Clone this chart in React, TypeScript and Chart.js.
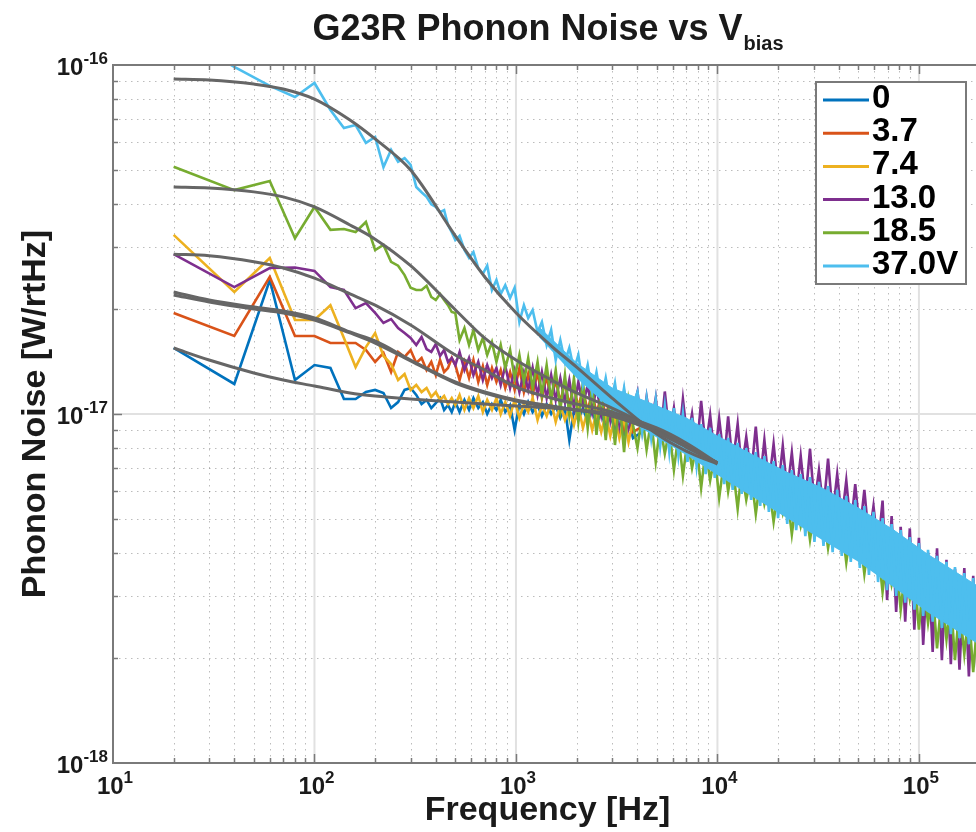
import React, { useEffect, useRef } from "react";
import { Chart, registerables } from "chart.js";

Chart.register(...registerables);

// ---------------- data (noise values in units of 1e-17 W/rtHz) ----------------
const UNIT = 1e-17;

const SERIES_LABELS = ["0", "3.7", "7.4", "13.0", "18.5", "37.0V"];
const SERIES_COLORS = ["#0072BD", "#D95319", "#EDB120", "#7E2F8E", "#77AC30", "#4DBEEE"];

// frequency grids [Hz]
const F_LOW = [20, 40, 60, 80, 100, 120, 140, 160, 180, 200, 220, 240, 260, 280, 300, 320, 340, 360, 380, 400, 420, 440, 460, 480];
const F_MID = [500, 525, 555, 585, 615, 650, 685, 720, 760, 800, 840, 885, 935, 985, 1040, 1095, 1150, 1210, 1280, 1345, 1420, 1495, 1575, 1660, 1750, 1840, 1940, 2040, 2150, 2270, 2390, 2510, 2650, 2790, 2940, 3100, 3260, 3440, 3620, 3810];
const F_HIGH = [4010, 4230, 4450, 4690, 4940, 5200, 5480, 5770, 6080, 6400, 6740, 7100, 7480, 7880, 8300, 8740, 9200, 9700, 10200, 10800, 11300, 11900, 12600, 13200, 13900, 14700, 15500, 16300, 17100, 18000, 19000, 20000, 21100, 22200, 23400, 24600, 25900, 27300, 28800, 30300, 31900, 33600, 35400, 37300, 39300, 41400, 43600, 45900, 48300, 50900, 53600, 56500, 59500, 62700, 66000, 69500, 73200, 77100, 81200, 85500, 90100, 94900, 100000, 105000, 111000, 117000, 123000, 130000, 137000, 144000, 151000, 159000, 168000, 177000, 186000, 196000, 206000];
const F_TAIL = [5000, 8000, 12000, 20000, 30000, 50000, 80000, 120000, 200000];

// 0 V
const V0_LOW = [1.546, 1.219, 2.42, 1.251, 1.381, 1.355, 1.104, 1.104, 1.156, 1.172, 1.149, 1.040, 1.082, 1.172, 1.187, 1.134, 1.068, 1.097, 1.040, 1.075, 1.111, 1.027, 1.061, 1.013];
const V0_MID = [1.082, 1.013, 1.097, 1.027, 1.111, 1.040, 1.082, 1.000, 1.068, 1.027, 1.097, 1.013, 1.061, 0.900, 1.068, 1.000, 1.082, 1.013, 1.061, 0.987, 1.068, 1.000, 1.054, 0.974, 1.040, 0.842, 1.027, 0.961, 1.040, 0.949, 1.027, 0.930, 1.013, 0.912, 0.993, 0.900, 0.974, 0.876, 0.961, 0.853];
const V0_TAIL = [0.95, 0.80, 0.72, 0.60, 0.53, 0.45, 0.37, 0.31, 0.26];

// 3.7 V
const V1_LOW = [1.948, 1.673, 2.47, 1.673, 1.673, 1.597, 1.597, 1.597, 1.525, 1.410, 1.496, 1.319, 1.506, 1.457, 1.525, 1.400, 1.447, 1.337, 1.410, 1.293, 1.428, 1.319, 1.355, 1.447];
const V1_MID = [1.381, 1.251, 1.410, 1.268, 1.428, 1.235, 1.372, 1.211, 1.355, 1.235, 1.337, 1.187, 1.319, 1.172, 1.355, 1.156, 1.302, 1.134, 1.319, 1.111, 1.285, 1.097, 1.251, 1.082, 1.235, 1.061, 1.203, 1.040, 1.187, 1.013, 1.172, 0.993, 1.141, 0.974, 1.126, 0.949, 1.097, 0.912, 1.061, 0.888];
const V1_TAIL = [0.97, 0.83, 0.70, 0.62, 0.51, 0.46, 0.36, 0.32, 0.25];

// 7.4 V
const V2_LOW = [3.26, 2.237, 2.80, 1.859, 1.859, 2.05, 1.651, 1.363, 1.555, 1.706, 1.466, 1.391, 1.251, 1.302, 1.172, 1.211, 1.156, 1.187, 1.119, 1.156, 1.097, 1.126, 1.068, 1.111];
const V2_MID = [1.061, 1.134, 1.027, 1.111, 1.040, 1.126, 1.013, 1.097, 1.027, 1.111, 1.000, 1.082, 0.987, 1.097, 0.974, 1.068, 1.013, 1.111, 0.961, 1.061, 0.987, 1.082, 0.949, 1.061, 0.961, 1.040, 0.930, 1.054, 0.912, 1.027, 0.900, 1.013, 0.888, 1.000, 0.865, 0.987, 0.853, 0.974, 0.831, 0.961];
const V2_TAIL = [0.93, 0.81, 0.73, 0.59, 0.53, 0.44, 0.38, 0.30, 0.265];

// 13.0 V
const V3_LOW = [2.87, 2.31, 2.62, 2.63, 2.57, 2.31, 2.266, 2.01, 2.08, 1.948, 1.823, 1.871, 1.764, 1.706, 1.651, 1.576, 1.662, 1.535, 1.506, 1.587, 1.466, 1.525, 1.410, 1.447];
const V3_MID = [1.381, 1.506, 1.337, 1.447, 1.293, 1.410, 1.251, 1.381, 1.268, 1.355, 1.211, 1.372, 1.187, 1.337, 1.156, 1.319, 1.172, 1.355, 1.134, 1.319, 1.111, 1.293, 1.097, 1.268, 1.082, 1.251, 1.040, 1.235, 1.061, 1.211, 1.013, 1.203, 0.993, 1.187, 0.961, 1.172, 0.930, 1.156, 0.912, 1.027];
const V3_HIGH = [
  1.157, 0.900, 1.120, 0.930, 1.111, 0.842, 1.160, 0.871, 1.040, 0.815,
  1.104, 0.842, 1.000, 0.778, 1.090, 0.799, 0.993, 0.748, 0.970, 0.729,
  0.985, 0.714, 0.936, 0.691, 0.860, 0.669, 0.920, 0.647, 0.842, 0.626,
  0.820, 0.606, 0.810, 0.598, 0.775, 0.575, 0.758, 0.560, 0.795, 0.549,
  0.690, 0.531, 0.745, 0.514, 0.673, 0.497, 0.645, 0.471, 0.630, 0.459,
  0.606, 0.436, 0.545, 0.413, 0.565, 0.293, 0.510, 0.271, 0.475, 0.254,
  0.470, 0.241, 0.442, 0.218, 0.400, 0.208, 0.412, 0.197, 0.382, 0.192,
  0.360, 0.185, 0.362, 0.177, 0.344, 0.173, 0.335,
];

// 18.5 V
const V4_LOW = [5.11, 4.38, 4.65, 3.19, 3.92, 3.37, 3.39, 3.32, 3.55, 2.95, 3.05, 2.73, 2.66, 2.50, 2.30, 2.266, 2.266, 2.33, 2.164, 2.121, 2.207, 2.121, 2.05, 1.96];
const V4_MID = [1.948, 1.629, 1.764, 1.577, 1.741, 1.525, 1.651, 1.476, 1.607, 1.410, 1.577, 1.355, 1.525, 1.268, 1.476, 1.235, 1.447, 1.187, 1.410, 1.134, 1.381, 1.097, 1.337, 1.027, 1.293, 0.993, 1.268, 0.949, 1.235, 0.912, 1.211, 0.871, 1.172, 0.842, 1.156, 0.815, 1.111, 0.778, 1.097, 0.930];
const V4_HIGH = [
  0.799, 0.993, 0.790, 0.961, 0.729, 0.930, 0.770, 0.900, 0.691, 0.871,
  0.665, 0.842, 0.700, 0.815, 0.614, 0.789, 0.645, 0.763, 0.575, 0.738,
  0.600, 0.714, 0.535, 0.691, 0.567, 0.669, 0.517, 0.647, 0.552, 0.626,
  0.491, 0.606, 0.520, 0.586, 0.452, 0.567, 0.478, 0.549, 0.436, 0.531,
  0.462, 0.514, 0.413, 0.497, 0.435, 0.481, 0.375, 0.465, 0.400, 0.450,
  0.348, 0.436, 0.370, 0.413, 0.309, 0.395, 0.325, 0.377, 0.275, 0.357,
  0.295, 0.344, 0.241, 0.330, 0.252, 0.313, 0.213, 0.301, 0.226, 0.293,
  0.197, 0.282, 0.205, 0.271, 0.182, 0.266, 0.190,
];

// 37.0 V
const V5_LOW = [12.5, 9.87, 8.71, 8.10, 8.88, 7.43, 6.60, 6.73, 5.98, 6.22, 5.10, 5.71, 5.28, 5.41, 5.17, 4.47, 4.32, 4.19, 3.99, 3.92, 3.79, 3.84, 3.48, 3.32];
const V5_MID = [3.15, 3.24, 2.95, 2.80, 2.91, 2.62, 2.52, 2.66, 2.266, 2.42, 2.207, 2.34, 2.149, 2.30, 1.835, 2.05, 1.884, 1.986, 1.718, 1.835, 1.577, 1.741, 1.428, 1.629, 1.410, 1.546, 1.337, 1.476, 1.211, 1.381, 1.156, 1.319, 1.097, 1.268, 1.061, 1.227, 0.993, 1.187, 0.961, 1.061];
const V5_HIGH = [
  1.157, 0.888, 1.111, 0.854, 1.097, 0.810, 1.054, 0.778, 1.040, 0.763,
  1.000, 0.729, 0.974, 0.710, 0.936, 0.673, 0.912, 0.656, 0.876, 0.630,
  0.854, 0.606, 0.826, 0.590, 0.799, 0.567, 0.778, 0.545, 0.758, 0.524,
  0.733, 0.503, 0.714, 0.484, 0.691, 0.465, 0.673, 0.447, 0.660, 0.430,
  0.639, 0.419, 0.622, 0.402, 0.606, 0.392, 0.582, 0.377, 0.567, 0.362,
  0.545, 0.346, 0.524, 0.330, 0.503, 0.313, 0.484, 0.301, 0.465, 0.288,
  0.444, 0.275, 0.427, 0.264, 0.408, 0.254, 0.392, 0.244, 0.377, 0.234,
  0.364, 0.228, 0.350, 0.219, 0.339, 0.214, 0.330,
];
// dense body of the 37.0 V trace above 1.3 kHz (upper / lower edge)
const F_BAND = [1300, 2000, 3000, 4500, 7000, 10000, 15000, 22000, 33000, 50000, 75000, 110000, 160000, 210000];
const BAND_HI = [1.775, 1.400, 1.187, 1.082, 0.974, 0.865, 0.763, 0.682, 0.614, 0.538, 0.465, 0.397, 0.346, 0.313];
const BAND_LO = [1.662, 1.268, 1.027, 0.888, 0.763, 0.669, 0.578, 0.504, 0.436, 0.377, 0.319, 0.271, 0.236, 0.214];

// model fits (gray)
const F_FIT = [20, 30, 50, 70, 100, 150, 200, 300, 500, 700, 1000, 1500, 2000, 3000, 5000, 7000, 10000];
const FIT_0 = [1.546, 1.428, 1.311, 1.251, 1.203, 1.149, 1.126, 1.104, 1.082, 1.068, 1.054, 1.040, 1.027, 1.000, 0.912, 0.826, 0.724];
const FIT_1 = [2.236, 2.121, 2.026, 1.973, 1.884, 1.718, 1.619, 1.428, 1.235, 1.156, 1.097, 1.054, 1.027, 0.987, 0.888, 0.804, 0.724];
const FIT_2 = [2.193, 2.094, 1.999, 1.947, 1.859, 1.707, 1.597, 1.419, 1.227, 1.149, 1.089, 1.047, 1.027, 0.987, 0.888, 0.804, 0.724];
const FIT_3 = [2.87, 2.84, 2.73, 2.62, 2.45, 2.21, 2.05, 1.80, 1.476, 1.337, 1.195, 1.111, 1.068, 1.013, 0.900, 0.810, 0.724];
const FIT_4 = [4.47, 4.44, 4.33, 4.19, 3.92, 3.48, 3.17, 2.66, 1.99, 1.65, 1.428, 1.251, 1.149, 1.040, 0.900, 0.810, 0.724];
const FIT_5 = [9.12, 9.06, 8.82, 8.54, 7.99, 6.96, 6.14, 5.00, 3.24, 2.47, 1.95, 1.566, 1.363, 1.111, 0.876, 0.783, 0.719];

// axes
const X_MIN = 10;
const X_MAX = 1.92e5;
const Y_MIN = 1e-18;
const Y_MAX = 1e-16;
const X_DECADES = [10, 100, 1000, 10000, 100000];
const X_EXPONENTS = ["1", "2", "3", "4", "5"];
const Y_DECADES = [1e-18, 1e-17, 1e-16];
const Y_EXPONENTS = ["-18", "-17", "-16"];
const MINOR_STEPS = [2, 3, 4, 5, 6, 7, 8, 9];

const TITLE_MAIN = "G23R Phonon Noise vs V";
const TITLE_SUB = "bias";
const X_TITLE = "Frequency [Hz]";
const Y_TITLE = "Phonon Noise [W/rtHz]";

// ---------------- styling ----------------
const FONT = '"Liberation Sans", Arial, Helvetica, sans-serif';
const TEXT = "#1a1a1a";
const FRAME = "#7a7a7a";
const FIT_COLOR = "#666666";
const LEGEND_BOX = { left: 816, top: 82, right: 966, bottom: 284, line0: 823, line1: 869, textX: 872, row0: 99, rowStep: 33.2 };

const pts = (fs: number[], vs: number[]) => fs.map((f, i) => ({ x: f, y: vs[i] * UNIT }));

const SERIES = [
  { f: [...F_LOW, ...F_MID, ...F_TAIL], v: [...V0_LOW, ...V0_MID, ...V0_TAIL], order: 8 },
  { f: [...F_LOW, ...F_MID, ...F_TAIL], v: [...V1_LOW, ...V1_MID, ...V1_TAIL], order: 7 },
  { f: [...F_LOW, ...F_MID, ...F_TAIL], v: [...V2_LOW, ...V2_MID, ...V2_TAIL], order: 6 },
  { f: [...F_LOW, ...F_MID, ...F_HIGH], v: [...V3_LOW, ...V3_MID, ...V3_HIGH], order: 5 },
  { f: [...F_LOW, ...F_MID, ...F_HIGH], v: [...V4_LOW, ...V4_MID, ...V4_HIGH], order: 4 },
  { f: [...F_LOW, ...F_MID, ...F_HIGH], v: [...V5_LOW, ...V5_MID, ...V5_HIGH], order: 1 },
];
const FITS = [FIT_0, FIT_1, FIT_2, FIT_3, FIT_4, FIT_5];

function buildDatasets() {
  const ds: any[] = [];
  SERIES.forEach((s, i) => {
    ds.push({
      label: SERIES_LABELS[i],
      data: pts(s.f, s.v),
      borderColor: SERIES_COLORS[i],
      backgroundColor: SERIES_COLORS[i],
      borderWidth: 2.6,
      pointRadius: 0,
      tension: 0,
      fill: false,
      order: s.order,
    });
  });
  // body of the dense 37.0 V trace
  ds.push({
    label: "_band_hi",
    data: pts(F_BAND, BAND_HI),
    borderColor: SERIES_COLORS[5],
    backgroundColor: SERIES_COLORS[5],
    borderWidth: 1,
    pointRadius: 0,
    tension: 0,
    fill: "+1",
    order: 2,
  });
  ds.push({
    label: "_band_lo",
    data: pts(F_BAND, BAND_LO),
    borderColor: "rgba(0,0,0,0)",
    borderWidth: 1,
    pointRadius: 0,
    tension: 0,
    fill: false,
    order: 3,
  });
  FITS.forEach((fv, i) => {
    ds.push({
      label: "_fit" + i,
      data: pts(F_FIT, fv),
      borderColor: FIT_COLOR,
      borderWidth: 3,
      pointRadius: 0,
      cubicInterpolationMode: "monotone",
      fill: false,
      order: 0,
    });
  });
  return ds;
}

function drawPower(ctx: CanvasRenderingContext2D, exp: string, x: number, y: number, align: "center" | "right", baseSize: number, expSize: number, rise: number) {
  ctx.font = `bold ${baseSize}px ${FONT}`;
  const w1 = ctx.measureText("10").width;
  ctx.font = `bold ${expSize}px ${FONT}`;
  const w2 = ctx.measureText(exp).width;
  const start = align === "center" ? x - (w1 + w2) / 2 : x - (w1 + w2);
  ctx.textAlign = "left";
  ctx.textBaseline = "alphabetic";
  ctx.font = `bold ${baseSize}px ${FONT}`;
  ctx.fillText("10", start, y);
  ctx.font = `bold ${expSize}px ${FONT}`;
  ctx.fillText(exp, start + w1, y - rise);
}

const matlabAxes = {
  id: "matlabAxes",
  beforeDatasetsDraw(chart: any) {
    const { ctx, chartArea: a } = chart;
    const xs = chart.scales.x;
    const ys = chart.scales.y;
    ctx.save();
    ctx.beginPath();
    ctx.rect(a.left, a.top, a.right - a.left, a.bottom - a.top);
    ctx.clip();
    // minor grid (dotted)
    ctx.setLineDash([1.5, 4.5]);
    ctx.lineWidth = 1;
    ctx.strokeStyle = "rgba(80,80,80,0.38)";
    for (const d of X_DECADES) {
      for (const k of MINOR_STEPS) {
        const v = d * k;
        if (v >= X_MAX) continue;
        const px = Math.round(xs.getPixelForValue(v)) + 0.5;
        ctx.beginPath();
        ctx.moveTo(px, a.top);
        ctx.lineTo(px, a.bottom);
        ctx.stroke();
      }
    }
    for (const d of Y_DECADES) {
      for (const k of MINOR_STEPS) {
        const v = d * k;
        if (v >= Y_MAX) continue;
        const py = Math.round(ys.getPixelForValue(v)) + 0.5;
        ctx.beginPath();
        ctx.moveTo(a.left, py);
        ctx.lineTo(a.right, py);
        ctx.stroke();
      }
    }
    // major grid (solid, light)
    ctx.setLineDash([]);
    ctx.strokeStyle = "#e1e1e1";
    ctx.lineWidth = 2;
    for (const d of X_DECADES) {
      const px = xs.getPixelForValue(d);
      ctx.beginPath();
      ctx.moveTo(px, a.top);
      ctx.lineTo(px, a.bottom);
      ctx.stroke();
    }
    for (const d of Y_DECADES) {
      const py = ys.getPixelForValue(d);
      ctx.beginPath();
      ctx.moveTo(a.left, py);
      ctx.lineTo(a.right, py);
      ctx.stroke();
    }
    ctx.restore();
  },
  afterDatasetsDraw(chart: any) {
    const { ctx, chartArea: a } = chart;
    const xs = chart.scales.x;
    const ys = chart.scales.y;
    ctx.save();
    // frame (left, bottom, top)
    ctx.strokeStyle = FRAME;
    ctx.lineWidth = 2;
    ctx.beginPath();
    ctx.moveTo(a.right + 2, a.top);
    ctx.lineTo(a.left, a.top);
    ctx.lineTo(a.left, a.bottom);
    ctx.lineTo(a.right + 2, a.bottom);
    ctx.stroke();
    // inward ticks
    ctx.lineWidth = 1.5;
    const xTick = (v: number, len: number) => {
      const px = Math.round(xs.getPixelForValue(v)) + 0.5;
      ctx.beginPath();
      ctx.moveTo(px, a.bottom);
      ctx.lineTo(px, a.bottom - len);
      ctx.moveTo(px, a.top);
      ctx.lineTo(px, a.top + len);
      ctx.stroke();
    };
    const yTick = (v: number, len: number) => {
      const py = Math.round(ys.getPixelForValue(v)) + 0.5;
      ctx.beginPath();
      ctx.moveTo(a.left, py);
      ctx.lineTo(a.left + len, py);
      ctx.stroke();
    };
    for (const d of X_DECADES) {
      if (d > X_MIN) xTick(d, 9);
      for (const k of MINOR_STEPS) if (d * k < X_MAX) xTick(d * k, 5);
    }
    for (const d of Y_DECADES) {
      if (d > Y_MIN && d < Y_MAX) yTick(d, 9);
      for (const k of MINOR_STEPS) if (d * k < Y_MAX) yTick(d * k, 5);
    }
    // tick labels
    ctx.fillStyle = TEXT;
    X_DECADES.forEach((d, i) => {
      drawPower(ctx, X_EXPONENTS[i], xs.getPixelForValue(d) + 2, a.bottom + 31, "center", 24, 17, 11);
    });
    Y_DECADES.forEach((d, i) => {
      drawPower(ctx, Y_EXPONENTS[i], a.left - 5, ys.getPixelForValue(d) + 10, "right", 24, 17, 11);
    });
    // axis titles
    ctx.font = `bold 34px ${FONT}`;
    ctx.textAlign = "center";
    ctx.textBaseline = "alphabetic";
    ctx.fillText(X_TITLE, (a.left + a.right) / 2 + 3, 820);
    ctx.save();
    ctx.translate(45, (a.top + a.bottom) / 2);
    ctx.rotate(-Math.PI / 2);
    ctx.fillText(Y_TITLE, 0, 0);
    ctx.restore();
    // title with subscript
    ctx.font = `bold 36px ${FONT}`;
    const wMain = ctx.measureText(TITLE_MAIN).width;
    ctx.font = `bold 20px ${FONT}`;
    const wSub = ctx.measureText(TITLE_SUB).width;
    const tx = (a.left + a.right) / 2 + 3 - (wMain + wSub) / 2;
    ctx.textAlign = "left";
    ctx.font = `bold 36px ${FONT}`;
    ctx.fillText(TITLE_MAIN, tx, 40);
    ctx.font = `bold 20px ${FONT}`;
    ctx.fillText(TITLE_SUB, tx + wMain + 1, 50);
    // legend
    const L = LEGEND_BOX;
    ctx.fillStyle = "#ffffff";
    ctx.fillRect(L.left, L.top, L.right - L.left, L.bottom - L.top);
    ctx.strokeStyle = FRAME;
    ctx.lineWidth = 2;
    ctx.strokeRect(L.left, L.top, L.right - L.left, L.bottom - L.top);
    ctx.font = `bold 33px ${FONT}`;
    ctx.textBaseline = "middle";
    SERIES_LABELS.forEach((lab, i) => {
      const y = L.row0 + i * L.rowStep;
      ctx.strokeStyle = SERIES_COLORS[i];
      ctx.lineWidth = 3;
      ctx.beginPath();
      ctx.moveTo(L.line0, y + 1);
      ctx.lineTo(L.line1, y + 1);
      ctx.stroke();
      ctx.fillStyle = "#000000";
      ctx.fillText(lab, L.textX, y);
    });
    ctx.restore();
  },
};

export default function App() {
  const ref = useRef<HTMLCanvasElement>(null);
  useEffect(() => {
    const canvas = ref.current;
    if (!canvas) return;
    const chart = new Chart(canvas, {
      type: "line",
      data: { datasets: buildDatasets() },
      options: {
        responsive: false,
        animation: false,
        events: [],
        devicePixelRatio: 1,
        layout: { padding: { left: 113, top: 65, right: 0, bottom: 69 } },
        scales: {
          x: { type: "logarithmic", min: X_MIN, max: X_MAX, display: false },
          y: { type: "logarithmic", min: Y_MIN, max: Y_MAX, display: false },
        },
        plugins: {
          legend: { display: false },
          tooltip: { enabled: false },
          title: { display: false },
        },
      },
      plugins: [matlabAxes],
    } as any);
    return () => chart.destroy();
  }, []);
  return (
    <div style={{ position: "fixed", left: 0, top: 0, width: 976, height: 832, background: "#ffffff" }}>
      <canvas ref={ref} width={976} height={832} style={{ display: "block", width: 976, height: 832 }} />
    </div>
  );
}
